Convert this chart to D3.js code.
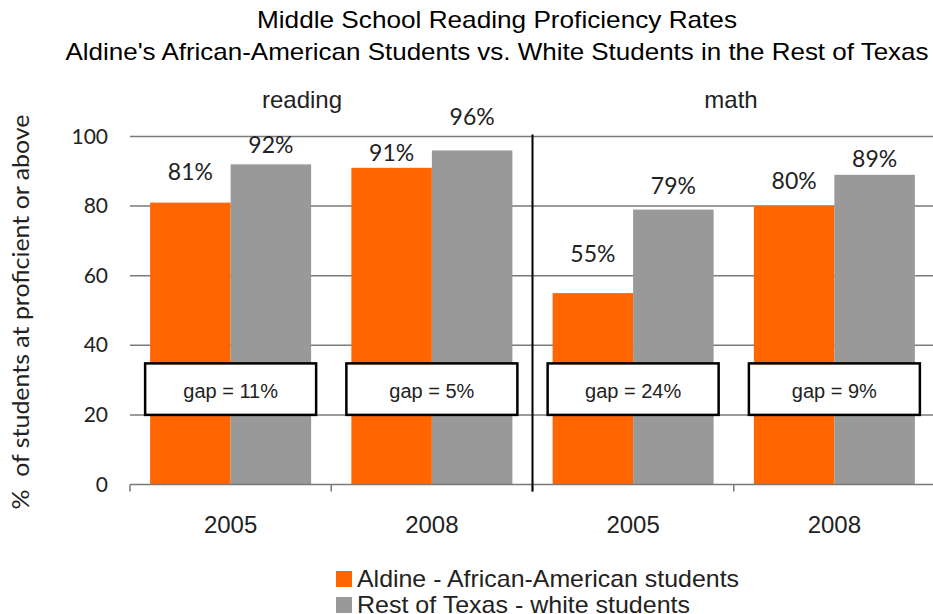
<!DOCTYPE html>
<html>
<head>
<meta charset="utf-8">
<script src="https://cdn.jsdelivr.net/npm/d3@7"></script>
<style>
  html, body { margin: 0; padding: 0; background: #fff; }
  svg { display: block; }
  .num { font-family: Lato, "Open Sans", sans-serif; }
  .sans { font-family: "Liberation Sans", Arial, sans-serif; }
</style>
</head>
<body>
<svg id="chart" width="933" height="614"></svg>
<script>
// ---- data ----
const titleLines = ["Middle School Reading Proficiency Rates",
                    "Aldine's African-American Students vs. White Students in the Rest of Texas"];
const subjects = ["reading", "math"];
const groups = ["reading 2005", "reading 2008", "math 2005", "math 2008"];
const yearLabels = ["2005", "2008", "2005", "2008"];
const seriesNames = ["Aldine - African-American students", "Rest of Texas - white students"];
const aldine = [81, 91, 55, 80];
const restOfTexas = [92, 96, 79, 89];
const yTicks = [0, 20, 40, 60, 80, 100];
const yTitle = "%  of students at proficient or above";

// ---- layout / style (not data) ----
const colors = ["#ff6600", "#999999"];
const labelGap = [20, 8, 4, 22, 28, 13, 14, 5]; // px gap label-bottom to bar top
const titleWidths = [480, 863];
const legendWidths = [382, 333];
const svg = d3.select("#chart");

const x0 = d3.scaleBand().domain(groups).range([130, 935]).paddingInner(0.2).paddingOuter(0.1);
const x1 = d3.scaleBand().domain([0, 1]).range([0, x0.bandwidth()]);
const y = d3.scaleLinear().domain([0, 100]).range([484.5, 136.5]);

// title
svg.selectAll("text.title").data(titleLines).enter().append("text")
  .attr("class", "title sans")
  .attr("x", 497).attr("y", (d, i) => 28 + i * 32)
  .attr("text-anchor", "middle")
  .attr("font-size", 24)
  .attr("textLength", (d, i) => titleWidths[i])
  .attr("lengthAdjust", "spacingAndGlyphs")
  .attr("fill", "#000")
  .text(d => d);

// gridlines
svg.append("g").selectAll("line").data(yTicks.filter(d => d > 0)).enter().append("line")
  .attr("x1", 130).attr("x2", 935)
  .attr("y1", d => y(d)).attr("y2", d => y(d))
  .attr("stroke", "#7a7a7a").attr("stroke-width", 1.5);

// y tick labels
svg.append("g").selectAll("text").data(yTicks).enter().append("text")
  .attr("class", "num")
  .attr("x", 108).attr("y", d => y(d) + 7)
  .attr("text-anchor", "end")
  .attr("font-size", 21)
  .attr("fill", "#222")
  .text(d => d);

// y title
svg.append("text")
  .attr("class", "num")
  .attr("transform", "translate(29,312) rotate(-90)")
  .attr("text-anchor", "middle")
  .attr("font-size", 23)
  .attr("textLength", 395)
  .attr("lengthAdjust", "spacingAndGlyphs")
  .attr("fill", "#222")
  .style("white-space", "pre")
  .text(yTitle);

// bars
const data = groups.map((g, i) => ({ g, vals: [aldine[i], restOfTexas[i]] }));
const gg = svg.append("g").selectAll("g").data(data).enter().append("g")
  .attr("transform", d => `translate(${x0(d.g)},0)`);
gg.selectAll("rect").data(d => d.vals).enter().append("rect")
  .attr("x", (d, i) => x1(i)).attr("width", x1.bandwidth())
  .attr("y", d => y(d)).attr("height", d => y(0) - y(d))
  .attr("fill", (d, i) => colors[i]);

// value labels
gg.each(function(d, gi) {
  d3.select(this).selectAll("text.val").data(d.vals).enter().append("text")
    .attr("class", "val num")
    .attr("x", (v, i) => x1(i) + x1.bandwidth() / 2)
    .attr("y", (v, i) => y(v) - labelGap[gi * 2 + i] - 3)
    .attr("text-anchor", "middle")
    .attr("font-size", 23)
    .attr("fill", "#222")
    .text(v => v + "%");
});

// x axis line + ticks
svg.append("line").attr("x1", 130).attr("x2", 935).attr("y1", y(0)).attr("y2", y(0))
  .attr("stroke", "#7a7a7a").attr("stroke-width", 1.5);
const tickXs = groups.map(g => x0(g) - x0.step() * x0.paddingInner() / 2);
tickXs[0] = 130;
svg.append("g").selectAll("line").data(tickXs).enter().append("line")
  .attr("x1", d => d).attr("x2", d => d)
  .attr("y1", y(0)).attr("y2", y(0) + 7)
  .attr("stroke", "#7a7a7a").attr("stroke-width", 1.5);

// divider between subjects
const divX = x0(groups[2]) - x0.step() * x0.paddingInner() / 2;
svg.append("line").attr("x1", divX).attr("x2", divX)
  .attr("y1", y(100) - 2).attr("y2", y(0) + 7)
  .attr("stroke", "#000").attr("stroke-width", 2);

// subject labels
const subjX = [302, 731];
svg.selectAll("text.subj").data(subjects).enter().append("text")
  .attr("class", "subj sans")
  .attr("x", (d, i) => subjX[i]).attr("y", 108)
  .attr("text-anchor", "middle")
  .attr("font-size", 24)
  .attr("fill", "#222")
  .text(d => d);

// gap boxes
gg.append("rect")
  .attr("x", -5).attr("width", x0.bandwidth() + 10)
  .attr("y", y(34.8)).attr("height", y(20) - y(34.8))
  .attr("fill", "#fff").attr("stroke", "#000").attr("stroke-width", 2.5);
gg.append("text")
  .attr("class", "sans")
  .attr("x", x0.bandwidth() / 2).attr("y", y(20) - 17)
  .attr("text-anchor", "middle")
  .attr("font-size", 20)
  .attr("fill", "#222")
  .text(d => "gap = " + (d.vals[1] - d.vals[0]) + "%");

// year labels
svg.append("g").selectAll("text").data(groups).enter().append("text")
  .attr("class", "sans")
  .attr("x", d => x0(d) + x0.bandwidth() / 2).attr("y", 533)
  .attr("text-anchor", "middle")
  .attr("font-size", 24)
  .attr("fill", "#222")
  .text((d, i) => yearLabels[i]);

// legend
const lg = svg.append("g").selectAll("g").data(seriesNames).enter().append("g")
  .attr("transform", (d, i) => `translate(336,${571 + i * 26})`);
lg.append("rect").attr("width", 16).attr("height", 16).attr("fill", (d, i) => colors[i]);
lg.append("text").attr("class", "sans")
  .attr("x", 21).attr("y", 15.5)
  .attr("font-size", 24)
  .attr("textLength", (d, i) => legendWidths[i])
  .attr("lengthAdjust", "spacingAndGlyphs")
  .attr("fill", "#222")
  .text(d => d);
</script>
</body>
</html>
